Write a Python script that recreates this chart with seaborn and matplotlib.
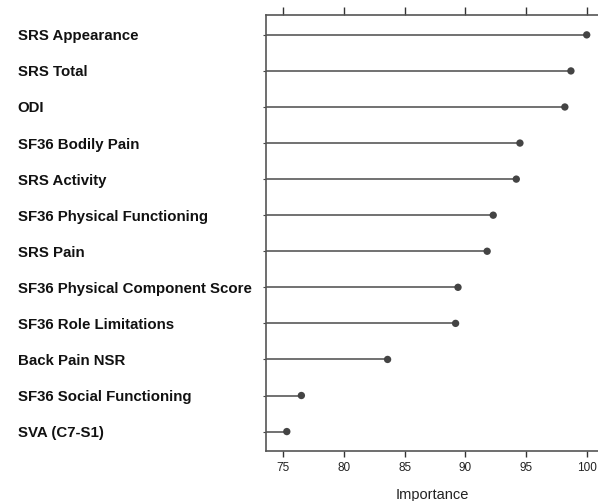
import matplotlib
matplotlib.use("Agg")
import matplotlib.pyplot as plt
import seaborn as sns
import pandas as pd

features = [
    "SRS Appearance",
    "SRS Total",
    "ODI",
    "SF36 Bodily Pain",
    "SRS Activity",
    "SF36 Physical Functioning",
    "SRS Pain",
    "SF36 Physical Component Score",
    "SF36 Role Limitations",
    "Back Pain NSR",
    "SF36 Social Functioning",
    "SVA (C7-S1)",
]
importance = [100.0, 98.7, 98.2, 94.5, 94.2, 92.3, 91.8, 89.4, 89.2, 83.6, 76.5, 75.3]
x_ticks = [75, 80, 85, 90, 95, 100]

sns.set_theme(style="white")
plt.rcParams["font.family"] = ["Liberation Sans", "DejaVu Sans"]

df = pd.DataFrame({"feature": features, "importance": importance})
df["pos"] = range(len(df))

fig = plt.figure(figsize=(5.98, 5.01), dpi=100)
ax = fig.add_axes([0.4455, 0.099, 0.5545, 0.871])

xmin = 73.62
ax.hlines(df["pos"], xmin, df["importance"], color="#4a4a4a", linewidth=1.1, zorder=1)
sns.scatterplot(data=df, x="importance", y="pos", ax=ax, color="#444444",
                s=28, edgecolor="none", zorder=2, legend=False)

ax.set_xlim(xmin, 100.93)
ax.set_ylim(11.55, -0.55)
ax.set_xticks(x_ticks)
ax.set_xticklabels([str(t) for t in x_ticks], fontsize=8.5, color="#222222")
ax.set_yticks(df["pos"])
ax.set_yticklabels(df["feature"], fontsize=10.8, fontweight="bold", ha="left", color="#111111")
ax.tick_params(axis="y", length=2, width=0.8, pad=177, left=True, colors="#444444", labelcolor="#111111")
ax.xaxis.set_ticks_position("both")
ax.tick_params(axis="x", which="major", bottom=True, top=True, direction="out",
               length=4.5, width=1.0, colors="#333333", labelcolor="#222222", pad=3)
ax.tick_params(axis="x", which="major", top=True, labeltop=False)
for t in ax.xaxis.get_major_ticks():
    t.tick2line.set_markersize(6)

for side in ["left", "bottom", "top"]:
    ax.spines[side].set_visible(True)
    ax.spines[side].set_color("#555555")
    ax.spines[side].set_linewidth(1.2)
ax.spines["right"].set_visible(False)

ax.set_xlabel("Importance", fontsize=10.5, color="#222222", labelpad=10)
ax.set_ylabel("")
ax.grid(False)

fig.savefig("out.png", dpi=100)
